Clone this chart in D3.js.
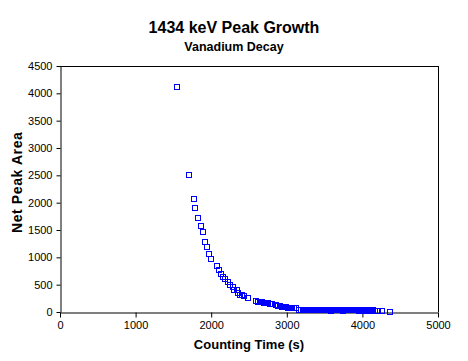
<!DOCTYPE html>
<html>
<head>
<meta charset="utf-8">
<script src="https://cdn.jsdelivr.net/npm/d3@7"></script>
<style>
  html, body { margin: 0; padding: 0; background: #fff; }
  svg { display: block; font-family: "Liberation Sans", Arial, sans-serif; }
</style>
</head>
<body>
<svg id="chart" width="468" height="361"></svg>
<script>
const titleText = "1434 keV Peak Growth";
const subtitleText = "Vanadium Decay";
const xLabel = "Counting Time (s)";
const yLabel = "Net Peak Area";
const xTicks = [0, 1000, 2000, 3000, 4000, 5000];
const yTicks = [0, 500, 1000, 1500, 2000, 2500, 3000, 3500, 4000, 4500];

const countingTime = [
  1543, 1711, 1777, 1790, 1830, 1869, 1892, 1923, 1944, 1975, 2001,
  2081, 2108, 2134, 2161, 2187, 2227, 2253, 2293, 2306, 2337, 2359,
  2385, 2412, 2438, 2483,
  2593, 2619, 2646, 2672, 2698, 2725, 2751, 2778, 2804, 2857, 2884,
  2910, 2937, 2963, 2989, 3016, 3042, 3069, 3095, 3122,
  3161, 3188, 3214, 3240, 3267, 3293, 3319, 3346, 3372, 3398, 3425,
  3451, 3477, 3504, 3530, 3556, 3583, 3609, 3635, 3662, 3688, 3714,
  3741, 3767, 3793, 3820, 3846, 3872, 3899, 3925, 3951, 3978, 4004,
  4030, 4057, 4083, 4109, 4140, 4167, 4193, 4206, 4259, 4365
];
const netPeakArea = [
  4110, 2500, 2061, 1897, 1714, 1568, 1458, 1275, 1183, 1055, 964,
  836, 762, 689, 634, 598, 543, 488, 452, 397, 397, 342,
  305, 305, 287, 250,
  195, 177, 177, 177, 159, 159, 159, 141, 141, 122, 104,
  104, 86, 86, 86, 68, 68, 68, 68, 68,
  37, 35, 37, 35, 33, 37, 35, 33, 37, 35, 33,
  35, 37, 33, 35, 30, 12, 33, 35, 30, 33, 35,
  15, 33, 30, 33, 35, 30, 33, 28, 15, 28, 30,
  25, 28, 30, 25, 28, 25, 22, 12, 10, 8
];

const svg = d3.select("#chart");
const mLeft = 60, mRight = 438, mTop = 66, mBottom = 312;

const x = d3.scaleLinear().domain([0, 5000]).range([mLeft, mRight]);
const y = d3.scaleLinear().domain([0, 4500]).range([mBottom, mTop]);

// Titles
svg.append("text").attr("x", 234).attr("y", 33).attr("text-anchor", "middle")
  .attr("font-size", 16).attr("font-weight", "bold").text(titleText);
svg.append("text").attr("x", 234).attr("y", 51).attr("text-anchor", "middle")
  .attr("font-size", 12.5).attr("font-weight", "bold").text(subtitleText);

// Plot frame (top & right)
svg.append("line").attr("x1", mLeft).attr("x2", mRight).attr("y1", mTop + 0.5).attr("y2", mTop + 0.5)
  .attr("stroke", "#000").attr("stroke-width", 1);
svg.append("line").attr("x1", mRight + 0.5).attr("x2", mRight + 0.5).attr("y1", mTop).attr("y2", mBottom)
  .attr("stroke", "#000").attr("stroke-width", 1);

// Axes
const xAxis = svg.append("g").attr("transform", `translate(0,${mBottom + 0.5})`)
  .call(d3.axisBottom(x).tickValues(xTicks).tickFormat(d3.format("d")).tickSizeInner(5).tickSizeOuter(0));
const yAxis = svg.append("g").attr("transform", `translate(${mLeft + 0.5},0)`)
  .call(d3.axisLeft(y).tickValues(yTicks).tickFormat(d3.format("d")).tickSizeInner(4).tickSizeOuter(0));
[xAxis, yAxis].forEach(g => {
  g.selectAll("path, line").attr("stroke", "#000").attr("stroke-width", 1);
  g.selectAll("text").attr("font-size", 11).attr("fill", "#000")
    .attr("font-family", "'Liberation Sans', Arial, sans-serif");
});
xAxis.selectAll("text").attr("dy", "1.05em").attr("y", 5);
yAxis.selectAll("text").attr("x", -8);

// Axis labels
svg.append("text").attr("x", 249).attr("y", 349).attr("text-anchor", "middle")
  .attr("font-size", 13).attr("font-weight", "bold").text(xLabel);

svg.append("clipPath").attr("id", "ylabclip").attr("clipPathUnits", "userSpaceOnUse")
  .append("rect").attr("x", 0).attr("y", 129).attr("width", 40).attr("height", 200);
svg.append("g").attr("clip-path", "url(#ylabclip)")
  .append("text")
  .attr("transform", "translate(22,233) rotate(-90)").attr("text-anchor", "start")
  .attr("font-size", 14).attr("letter-spacing", 0.6).attr("font-weight", "bold").text(yLabel);

// Points
svg.append("g").selectAll("rect").data(countingTime.map((t, i) => [t, netPeakArea[i]]))
  .join("rect")
  .attr("x", d => Math.round(x(d[0])) - 2.5)
  .attr("y", d => Math.round(y(d[1])) - 2.5)
  .attr("width", 5).attr("height", 5)
  .attr("fill", "none").attr("stroke", "#0000ff").attr("stroke-width", 1);
</script>
</body>
</html>
